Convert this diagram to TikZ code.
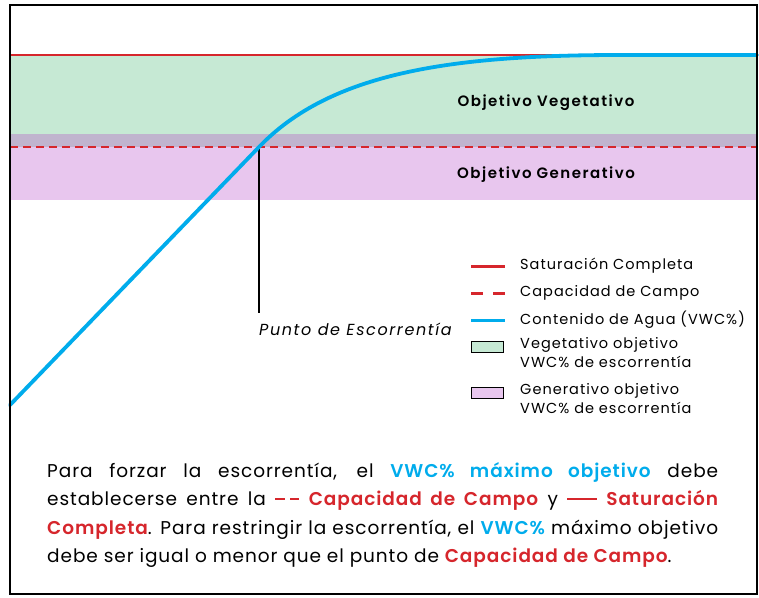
\documentclass[tikz,border=0pt]{standalone}
\usepackage{fontspec}
\setmainfont{Poppins}[BoldFont={Poppins SemiBold}]
\usetikzlibrary{positioning}
\definecolor{satred}{RGB}{214,38,44}
\definecolor{vwcblue}{RGB}{0,172,236}
\definecolor{veggreen}{RGB}{198,233,212}
\definecolor{genpurple}{RGB}{232,198,238}
\definecolor{overlapgrey}{RGB}{192,180,206}
\tikzset{
  vwccurve/.style={vwcblue,line width=3.8pt,line cap=round},
  satline/.style={satred,line width=2.6pt},
  fieldline/.style={satred,line width=2.3pt,dash pattern=on 8pt off 5pt},
  legtext/.style={anchor=west,inner sep=0pt,align=left,font=\fontsize{14.5}{19}\selectfont\addfontfeatures{LetterSpace=7}},
  bandlabel/.style={inner sep=0pt,font=\fontsize{15}{16}\selectfont\bfseries\addfontfeatures{LetterSpace=10}},
  legbox/.style={draw=black,line width=0.8pt},
}
\newcommand{\legline}[4]{\coordinate (#1a) at (471,#3);\coordinate (#1b) at (505,#3);
  \draw[#2] (#1a) -- (#1b);\node[legtext] (#1) at (520,#3) {#4};}
\newcommand{\legbox}[4]{\draw[legbox,fill=#2] (471,#3-5.5) rectangle (503,#3+5.5);
  \node[legtext,anchor=north west] (#1) at (520,#3-10) {#4};}
\newcommand{\ddash}{\textcolor{satred}{\rule[0.3em]{0.5em}{2.5pt}\hspace{0.3em}\rule[0.3em]{0.5em}{2.5pt}}}
\newcommand{\sline}{\textcolor{satred}{\rule[0.3em]{1.6em}{2.5pt}}}

\begin{document}
\begin{tikzpicture}[x=1pt,y=-1pt]
      \fill[white] (0,0) rectangle (759,597);
      \useasboundingbox (0,0) rectangle (759,597);
      \fill[veggreen] (10,55) rectangle (757,134);
      \fill[overlapgrey] (10,134) rectangle (757,147);
      \fill[genpurple] (10,147) rectangle (757,200);
      \coordinate (satL) at (10,55);
      \coordinate (satR) at (757,55);
      \coordinate (fcL) at (10,147);
      \coordinate (fcR) at (757,147);
      \draw[satline] (satL) -- (satR);
      \draw[fieldline] (fcL) -- (fcR);
      \node[bandlabel] (veg) at (546,103) {Objetivo Vegetativo};
      \node[bandlabel] (gen) at (546,175) {Objetivo Generativo};
      \coordinate (start) at (10,405);
      \coordinate (runoff) at (259,147);
      \coordinate (flat) at (620,55);
      \coordinate (endc) at (757,55);
      \coordinate (foot) at (259,313);
      \draw[line width=1.3pt] (runoff) -- (foot);
      \draw[vwccurve] (start) -- (runoff) .. controls (330,73) and (450,55) .. (flat) -- (endc);
      \node[anchor=north west,inner sep=0pt,font=\fontsize{16}{18}\selectfont\itshape\addfontfeatures{LetterSpace=10}] (punto) at ([yshift=-10pt]foot) {Punto de Escorrentía};
      \legline{sat}{satline,line width=3pt}{266}{Saturación Completa}
      \legline{fc}{satred,line width=3pt,dash pattern=on 12pt off 10pt}{293}{Capacidad de Campo}
      \legline{vwc}{vwcblue,line width=3pt}{320}{Contenido de Agua (VWC\%)}
      \legbox{vegleg}{veggreen}{347}{Vegetativo objetivo\\VWC\% de escorrentía}
      \legbox{genleg}{genpurple}{393}{Generativo objetivo\\VWC\% de escorrentía}
      \node[anchor=north west,inner sep=0pt,text width=671pt,align=justify,font=\fontsize{18.5}{28.5}\selectfont\addfontfeatures{LetterSpace=5}] (note) at (47,462) {Para forzar la escorrentía, el \textcolor{vwcblue}{\bfseries VWC\% máximo objetivo} debe\linebreak establecerse entre la \ddash\ \textcolor{satred}{\bfseries Capacidad de Campo} y \sline\ \textcolor{satred}{\bfseries Saturación}\linebreak \textcolor{satred}{\bfseries Completa}. Para restringir la escorrentía, el \textcolor{vwcblue}{\bfseries VWC\%} máximo objetivo\linebreak debe ser igual o menor que el punto de \textcolor{satred}{\bfseries Capacidad de Campo}.};
      \draw[line width=1.5pt] (10,5) rectangle (757,594);
\end{tikzpicture}
\end{document}
